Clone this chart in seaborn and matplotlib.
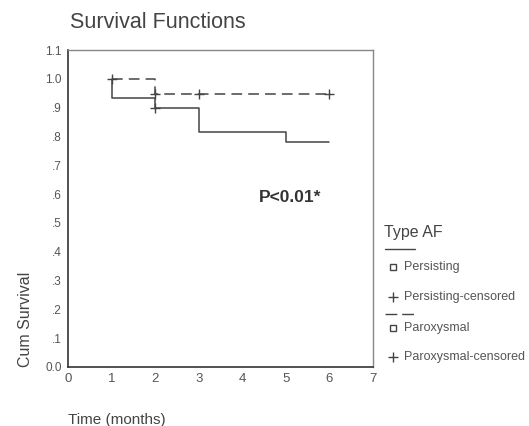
import matplotlib
matplotlib.use("Agg")
import matplotlib.pyplot as plt
from matplotlib.lines import Line2D
import seaborn as sns

# ---- data ----
pers_time = [1, 1, 2, 3, 5, 6]
pers_surv = [1.0, 0.933, 0.898, 0.817, 0.780, 0.780]
pers_cens_time = [2]
pers_cens_surv = [0.898]

parox_time = [1, 2, 6]
parox_surv = [1.0, 0.947, 0.947]
parox_cens_time = [1, 2, 3, 6]
parox_cens_surv = [1.0, 0.947, 0.947, 0.947]

x_ticks = [0, 1, 2, 3, 4, 5, 6, 7]
y_ticks = [0.0, 0.1, 0.2, 0.3, 0.4, 0.5, 0.6, 0.7, 0.8, 0.9, 1.0, 1.1]
y_tick_labels = ["0.0", ".1", ".2", ".3", ".4", ".5", ".6", ".7", ".8", ".9", "1.0", "1.1"]
legend_title = "Type AF"
legend_labels = ["Persisting", "Persisting-censored", "Paroxysmal", "Paroxysmal-censored"]

sns.set_style("white")
plt.rcParams['font.family'] = ['Liberation Sans', 'DejaVu Sans']

fig = plt.figure(figsize=(5.29, 4.26), dpi=100)
ax = fig.add_axes([0.1285, 0.1385, 0.705 - 0.1285, 0.8826 - 0.1385])

line_col = "#444444"
text_col = "#444444"

sns.lineplot(x=pers_time, y=pers_surv, ax=ax, sort=False, estimator=None,
             drawstyle="steps-post", color=line_col, linewidth=1.1)
sns.lineplot(x=parox_time, y=parox_surv, ax=ax, sort=False, estimator=None,
             drawstyle="steps-post", color=line_col, linewidth=1.1)
ax.lines[-1].set_dashes([7, 4])
sns.scatterplot(x=pers_cens_time, y=pers_cens_surv, ax=ax, marker="+",
                s=42, color=line_col, linewidth=1.0)
sns.scatterplot(x=parox_cens_time, y=parox_cens_surv, ax=ax, marker="+",
                s=42, color=line_col, linewidth=1.0)

ax.set_xlim(0, 7)
ax.set_ylim(0, 1.1)
ax.set_xticks(x_ticks)
ax.set_xticklabels([str(t) for t in x_ticks], fontsize=9.5, color="#555555")
ax.set_yticks(y_ticks)
ax.set_yticklabels(y_tick_labels, fontsize=8.5, color="#555555")
ax.tick_params(axis="both", direction="out", length=2.5, width=2, color="#222222", pad=2)

for side in ["left", "bottom"]:
    ax.spines[side].set_color("#333333")
    ax.spines[side].set_linewidth(1.2)
for side in ["top", "right"]:
    ax.spines[side].set_color("#888888")
    ax.spines[side].set_linewidth(1.0)

ax.set_ylabel("Cum Survival", loc="bottom", fontsize=11.5, color=text_col, labelpad=9)
ax.set_xlabel("Time (months)", loc="left", fontsize=11, color=text_col, labelpad=20)

fig.text(70 / 529, 1 - 23 / 426, "Survival Functions", fontsize=15.5, color=text_col,
         ha="left", va="center")
ax.text(0.728, 0.536, "P<0.01*", transform=ax.transAxes, fontsize=12.5,
        fontweight="bold", color="#333333", ha="center", va="center")

# ---- manual legend ----
def fy(py):
    return 1 - py / 426

def fx(px):
    return px / 529

fig.text(fx(384), fy(232), legend_title, fontsize=11.5, color=text_col, ha="left", va="center")
fig.add_artist(Line2D([fx(385), fx(415)], [fy(249), fy(249)], color=line_col, linewidth=1.0))
fig.add_artist(Line2D([fx(385), fx(414)], [fy(314), fy(314)], color=line_col, linewidth=1.0,
                      dashes=[8.5, 3.5]))
rows = [(267, "s"), (297, "+"), (328, "s"), (357, "+")]
for (py, mk), lab in zip(rows, legend_labels):
    if mk == "s":
        fig.add_artist(Line2D([fx(393)], [fy(py)], marker="s", markersize=4,
                              markerfacecolor="white", markeredgecolor=line_col,
                              markeredgewidth=1.0, linestyle="none"))
    else:
        fig.add_artist(Line2D([fx(393)], [fy(py)], marker="+", markersize=6.5,
                              markeredgecolor=line_col, markeredgewidth=1.0,
                              linestyle="none"))
    fig.text(fx(404), fy(py), lab, fontsize=9, color="#555555", ha="left", va="center")

fig.savefig("out.png", dpi=100)
